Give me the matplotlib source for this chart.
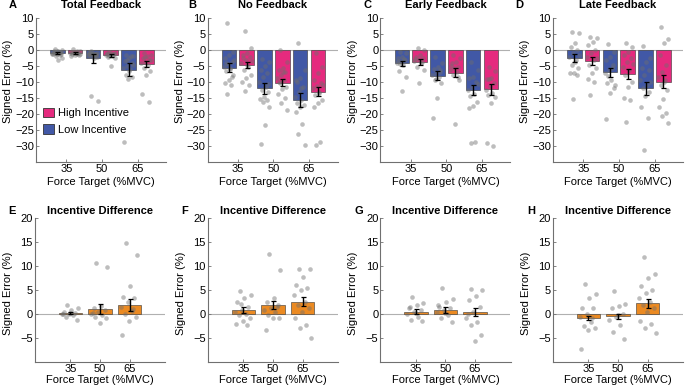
import numpy as np
import matplotlib.pyplot as plt
from matplotlib.patches import Patch

plt.rcParams['font.family'] = ['Liberation Sans', 'DejaVu Sans']
plt.rcParams['font.size'] = 8

targets = ['35', '50', '65']
top_titles = ['Total Feedback', 'No Feedback', 'Early Feedback', 'Late Feedback']
top_letters = ['A', 'B', 'C', 'D']
bottom_letters = ['E', 'F', 'G', 'H']

# bar order in the top row: low35, high35, low50, high50, low65, high65
total_mean = [-0.8, -0.8, -2.6, -1.6, -6.1, -4.4]
total_sem = [0.3, 0.3, 1.4, 0.5, 2.0, 1.0]
nofb_mean = [-5.5, -4.7, -12.0, -10.2, -15.5, -13.0]
nofb_sem = [1.3, 1.0, 1.7, 1.0, 2.2, 1.5]
early_mean = [-4.2, -3.7, -8.0, -7.1, -12.5, -12.3]
early_sem = [0.9, 1.0, 1.3, 1.4, 1.6, 1.7]
late_mean = [-2.6, -3.4, -7.0, -7.5, -12.0, -9.9]
late_sem = [1.3, 1.2, 1.3, 1.5, 2.1, 2.1]

total_pts = [
    [0.3, 0, -0.3, -0.5, -0.6, -0.8, -0.9, -1.0, -1.0, -1.1, -1.2, -1.3, -1.5, -1.8, -2.4, -3.2, -0.4, -0.7, -0.2, -1.4],
    [0.2, -0.3, -0.5, -0.6, -0.8, -0.9, -1.0, -1.1, -1.2, -1.5, -1.7, -2.0, -0.4, -0.7, -1.3, -0.9],
    [-0.3, -0.8, -1.0, -1.2, -1.4, -1.5, -1.6, -1.8, -2.0, -2.2, -1.1, -0.6, -1.3, -14.3, -15.9, -2.5, -0.9, -1.7],
    [-0.5, -0.8, -1.0, -1.2, -1.4, -1.5, -1.6, -2.0, -2.2, -2.5, -5.0, -0.9, -1.3, -1.8],
    [-1.5, -2.0, -2.5, -3.5, -4.2, -5.0, -5.5, -6.0, -7.8, -8.4, -9.1, -28.7, -1.8, -3.0, -4.8, -6.5],
    [-1.0, -1.5, -2.0, -2.6, -3.2, -3.7, -4.2, -4.7, -5.7, -6.5, -7.8, -13.9, -16.2, -2.3, -3.0],
]
nofb_pts = [
    [8.4, -0.5, -1.6, -2.5, -3.7, -4.5, -5.2, -5.7, -6.5, -7.8, -9.4, -10.4, -11.0, -13.9, -3.0, -6.0, -4.0, -8.5],
    [6.0, 0.5, -1.0, -1.6, -2.1, -3.1, -4.2, -5.2, -6.3, -7.8, -8.9, -9.9, -11.0, -12.7, -3.5, -4.8, -2.5],
    [-2.9, -3.7, -5.0, -6.3, -7.1, -8.5, -9.9, -11.5, -12.5, -13.0, -14.6, -15.2, -15.7, -16.3, -17.8, -23.5, -29.5, -10.5],
    [0.0, -3.7, -5.7, -6.3, -6.8, -7.8, -8.9, -9.4, -10.4, -11.5, -12.3, -13.6, -14.9, -16.7, -18.8, -7.0, -10.0],
    [2.1, -6.3, -8.9, -9.4, -11.5, -13.0, -14.6, -15.5, -16.7, -17.3, -17.8, -19.3, -23.0, -26.3, -29.8, -12.0, -10.0],
    [-0.8, -5.2, -7.3, -9.4, -10.4, -11.3, -12.0, -13.0, -14.1, -15.7, -16.7, -17.8, -28.7, -29.8, -11.0, -13.5],
]
early_pts = [
    [-0.5, -1.0, -2.1, -2.6, -3.1, -3.7, -4.0, -4.7, -6.6, -8.4, -12.7, -3.3, -2.8, -4.3],
    [0.7, 0.0, -1.6, -2.1, -2.6, -3.1, -3.5, -4.2, -5.2, -6.3, -10.4, -2.8, -3.8],
    [-2.3, -4.2, -5.2, -5.8, -6.3, -7.3, -7.8, -8.5, -9.4, -10.4, -15.1, -21.4, -6.8, -9.0],
    [-1.6, -2.6, -3.7, -4.2, -5.2, -5.7, -6.3, -6.8, -7.8, -9.4, -23.2, -5.0, -8.3],
    [-3.7, -6.3, -8.4, -8.9, -9.9, -11.5, -12.5, -13.6, -14.5, -16.2, -17.5, -18.0, -28.7, -29.0, -10.5],
    [-5.2, -6.5, -8.6, -9.2, -10.2, -11.3, -12.5, -13.5, -14.1, -14.6, -16.7, -29.2, -30.0, -9.0],
]
late_pts = [
    [5.7, 5.2, 2.1, 1.0, 0.0, -1.0, -2.1, -3.1, -4.7, -5.7, -7.1, -7.3, -7.8, -15.4, -1.5, -3.8],
    [4.2, 3.7, 2.6, 1.6, 0.0, -1.0, -2.1, -3.1, -4.7, -5.7, -7.3, -9.2, -9.9, -14.1, -2.5],
    [1.8, -0.5, -2.1, -3.1, -4.7, -6.3, -7.3, -9.4, -10.4, -12.0, -13.4, -21.7, -5.5, -8.0, -11.0],
    [2.1, 1.0, -0.5, -1.6, -2.6, -3.7, -5.2, -6.3, -7.8, -9.9, -11.7, -15.1, -15.7, -22.5, -4.5],
    [1.2, -2.6, -3.7, -5.7, -6.3, -7.8, -9.5, -11.0, -12.0, -13.0, -14.5, -17.8, -21.1, -31.3, -10.0],
    [7.1, 3.3, 2.1, -1.6, -4.7, -6.8, -8.4, -9.4, -11.0, -12.5, -15.4, -17.8, -19.8, -20.7, -22.8, -10.0],
]

# incentive difference (high - low), bottom row
total_diff_mean = [0.3, 1.0, 1.9]
total_diff_sem = [0.2, 1.0, 1.2]
nofb_diff_mean = [0.8, 1.9, 2.6]
nofb_diff_sem = [0.6, 0.9, 1.0]
early_diff_mean = [0.5, 0.8, 0.35]
early_diff_sem = [0.5, 0.6, 0.8]
late_diff_mean = [-0.9, -0.5, 2.2]
late_diff_sem = [0.4, 0.6, 0.85]

total_diff_pts = [
    [1.9, 1.2, 0.8, 0.5, 0.3, 0.1, 0.0, -0.2, -0.6, -1.3, 0.2, -0.1],
    [10.7, 9.7, 1.7, 1.2, 0.8, 0.5, 0.1, -0.2, -0.6, -0.9, -1.8, 0.3],
    [14.8, 12.3, 5.9, 3.6, 3.3, 2.6, 1.5, 0.6, 0.1, -0.6, -1.5, -4.3, 1.0],
]
nofb_diff_pts = [
    [4.8, 4.0, 3.3, 2.6, 1.5, 0.8, 0.5, 0.1, -0.3, -0.9, -1.5, -2.0, -2.3, 2.0],
    [12.5, 9.2, 3.3, 2.6, 1.9, 1.2, 0.8, 0.5, -0.2, -0.9, -0.9, -3.3, 1.5],
    [9.4, 9.4, 7.8, 6.1, 5.4, 5.0, 4.0, 2.6, 1.9, 1.2, 0.5, -0.9, -2.3, -3.0, -4.9],
]
early_diff_pts = [
    [3.6, 2.2, 1.9, 1.5, 0.8, 0.5, 0.1, -0.6, -1.3, -1.5, 0.3, 1.2],
    [5.5, 3.1, 2.6, 1.5, 1.2, 0.8, 0.5, -0.2, -0.9, -1.6, 0.3, 1.9],
    [5.2, 5.0, 3.8, 2.9, 1.5, 0.5, -0.9, -1.6, -2.3, -4.4, -5.6, 0.0],
]
late_diff_pts = [
    [6.2, 4.1, 3.3, 1.3, 1.3, 0.1, -0.6, -1.6, -2.6, -3.0, -3.3, -7.2, -0.9],
    [4.7, 2.0, 1.7, 1.2, 0.1, -0.6, -1.3, -2.3, -3.8, -5.3, -0.3],
    [11.8, 8.4, 7.6, 5.9, 5.0, 4.3, 3.3, 2.6, 1.9, 1.2, 0.5, -1.5, -2.0, -3.0, -3.9],
]

top_means = [total_mean, nofb_mean, early_mean, late_mean]
top_sems = [total_sem, nofb_sem, early_sem, late_sem]
top_pts = [total_pts, nofb_pts, early_pts, late_pts]
bot_means = [total_diff_mean, nofb_diff_mean, early_diff_mean, late_diff_mean]
bot_sems = [total_diff_sem, nofb_diff_sem, early_diff_sem, late_diff_sem]
bot_pts = [total_diff_pts, nofb_diff_pts, early_diff_pts, late_diff_pts]

BLUE = '#4158a6'
PINK = '#e52a7e'
ORANGE = '#eb8a22'
AXGRAY = '#707070'

W, H = 685, 388
fig = plt.figure(figsize=(W / 100, H / 100), dpi=100)


def px_axes(left, top, width, height):
    return fig.add_axes([left / W, 1 - (top + height) / H, width / W, height / H])


def jitter(n, spread):
    # deterministic spread of points across the bar width
    return ((np.arange(n) * 0.618034 + 0.3) % 1 - 0.5) * 2 * spread


def style(ax):
    for s in ['top', 'right']:
        ax.spines[s].set_visible(False)
    for s in ['left', 'bottom']:
        ax.spines[s].set_color(AXGRAY)
        ax.spines[s].set_linewidth(0.8)
    ax.tick_params(length=2, direction='in', width=0.6, color=AXGRAY, pad=1.5, labelsize=8)
    ax.axhline(0, color='#b0b0b0', lw=0.8, zorder=1)


def draw(ax, xs, means, sems, pts, colors, width, spread):
    ax.bar(xs, means, width=width, color=colors, edgecolor='#333333', linewidth=0.4, zorder=2)
    for x, p in zip(xs, pts):
        ax.scatter(x + jitter(len(p), spread), p, s=11, color='#6e6e6e', alpha=0.45,
                   linewidths=0, zorder=3)
    ax.errorbar(xs, means, yerr=sems, fmt='none', ecolor='black', elinewidth=1,
                capsize=1.8, capthick=0.9, zorder=4)


top_left = [36, 207.5, 380.5, 553]
bot_left = [35, 208, 380.5, 553]

for i in range(4):
    ax = px_axes(top_left[i], 18, 130, 144)
    style(ax)
    xs = np.arange(1, 7)
    colors = [BLUE, PINK] * 3
    draw(ax, xs, top_means[i], top_sems[i], top_pts[i], colors, 0.82, 0.3)
    ax.set_xlim(-0.2, 7.1)
    ax.set_ylim(-35, 10)
    ax.set_yticks(np.arange(-30, 11, 5))
    ax.set_xticks([1.5, 3.5, 5.5])
    ax.set_xticklabels(targets)
    ax.set_xlabel('Force Target (%MVC)', fontsize=8, labelpad=2)
    ax.set_ylabel('Signed Error (%)', fontsize=8)
    ax.yaxis.set_label_coords(-0.175, 0.56)
    ax.text(0.5, 1.09, top_titles[i], transform=ax.transAxes, ha='center', va='center',
            fontsize=8, fontweight='bold')
    if i == 0:
        handles = [Patch(facecolor=PINK, edgecolor='#333333', linewidth=0.6),
                   Patch(facecolor=BLUE, edgecolor='#333333', linewidth=0.6)]
        ax.legend(handles, ['High Incentive', 'Low Incentive'], loc='lower left',
                  bbox_to_anchor=(0.0, 0.14), frameon=False, fontsize=8,
                  handlelength=1.0, handleheight=1.0, handletextpad=0.4,
                  labelspacing=0.55, borderaxespad=0.2)

for i in range(4):
    ax = px_axes(bot_left[i], 218, 130, 144)
    style(ax)
    xs = np.arange(1, 4)
    draw(ax, xs, bot_means[i], bot_sems[i], bot_pts[i], [ORANGE] * 3, 0.8, 0.3)
    ax.set_xlim(-0.2, 4.2)
    ax.set_ylim(-10, 20)
    ax.set_yticks(np.arange(-5, 21, 5))
    ax.set_xticks(xs)
    ax.set_xticklabels(targets)
    ax.set_xlabel('Force Target (%MVC)', fontsize=8, labelpad=1)
    ax.set_ylabel('Signed Error (%)', fontsize=8)
    ax.yaxis.set_label_coords(-0.17, 0.48)
    ax.text(0.5, 1.05, 'Incentive Difference', transform=ax.transAxes, ha='center',
            va='center', fontsize=8, fontweight='bold')

top_letter_x = [13, 192, 368, 519]
bot_letter_x = [12, 185, 359, 531]
for lx, lt in zip(top_letter_x, top_letters):
    fig.text(lx / W, 1 - 5 / H, lt, ha='center', va='center', fontsize=8, fontweight='bold')
for lx, lt in zip(bot_letter_x, bottom_letters):
    fig.text(lx / W, 1 - 211 / H, lt, ha='center', va='center', fontsize=8, fontweight='bold')

fig.savefig('out.png', dpi=100)
